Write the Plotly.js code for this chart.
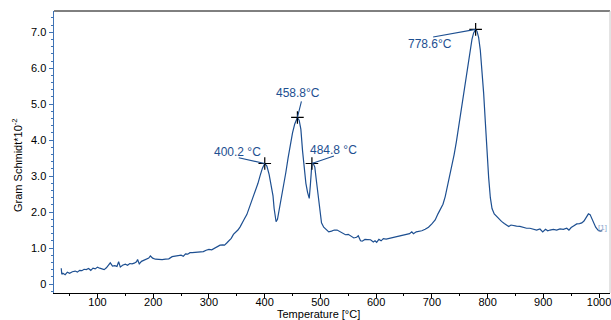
<!DOCTYPE html>
<html>
<head>
<meta charset="utf-8">
<script src="https://cdn.plot.ly/plotly-3.0.1.min.js"></script>
<style>html,body{margin:0;padding:0;background:#fff;}#chart{width:611px;height:320px;}</style>
</head>
<body>
<div id="chart"></div>
<script>
const temperature = [35,36,38,42,46,50,55,60,64,68,72,76,80,84,88,92,96,100,104,108,112,116,120,123,127,131,135,138,141,145,150,154,158,162,166,170,172,175,179,184,188,192,195,199,204,210,216,222,228,234,240,246,250,254,258,262,266,270,275,280,285,290,295,300,305,310,315,320,325,328,332,336,340,344,348,352,356,360,364,368,372,376,380,384,388,392,396,400.2,404,408,412,415,417,419,420.5,423,426,430,434,438,442,446,450,454,458.8,462,465,468,471,474,477,480,482,484.8,487,490,493,496,499,502,506,510,515,520,525,530,535,540,545,550,555,560,565,568,572,575,580,585,590,595,598,601,605,609,613,618,623,630,636,642,648,655,660,664,667,672,676,682,688,694,700,706,711,716,720,724,728,732,736,740,744,748,752,756,760,764,768,772,775,778.6,781,784,787,790,793,796,799,802,805,808,812,816,820,825,830,834,838,842,846,852,858,864,870,876,882,888,894,899,904,908,912,918,924,930,936,942,946,950,955,960,965,969,973,977,981,984,987,990,994,998,1002,1006];
const gramSchmidt = [0.44,0.27,0.30,0.26,0.33,0.30,0.34,0.36,0.33,0.38,0.37,0.41,0.40,0.43,0.38,0.44,0.42,0.47,0.44,0.41,0.40,0.45,0.52,0.59,0.50,0.51,0.49,0.62,0.47,0.52,0.55,0.52,0.57,0.56,0.58,0.62,0.68,0.56,0.63,0.66,0.68,0.72,0.78,0.72,0.69,0.68,0.68,0.69,0.70,0.76,0.78,0.79,0.80,0.77,0.84,0.83,0.87,0.87,0.88,0.88,0.88,0.90,0.94,0.96,0.95,1.00,1.03,1.08,1.09,1.08,1.14,1.20,1.27,1.38,1.44,1.50,1.59,1.72,1.82,1.93,2.10,2.25,2.42,2.60,2.80,3.02,3.22,3.35,3.28,3.05,2.75,2.45,2.10,1.80,1.73,1.80,2.05,2.40,2.75,3.10,3.50,3.90,4.20,4.45,4.63,4.55,4.30,3.70,3.15,2.80,2.55,2.38,2.75,3.35,3.36,3.25,2.85,2.45,2.00,1.70,1.58,1.53,1.45,1.47,1.50,1.50,1.45,1.42,1.37,1.38,1.32,1.28,1.30,1.34,1.20,1.19,1.24,1.24,1.23,1.17,1.20,1.16,1.24,1.20,1.26,1.25,1.27,1.28,1.32,1.33,1.35,1.38,1.40,1.45,1.40,1.45,1.46,1.48,1.52,1.58,1.67,1.78,1.95,2.10,2.22,2.43,2.70,2.98,3.28,3.60,3.95,4.35,4.78,5.20,5.62,6.03,6.45,6.80,6.98,7.08,7.03,6.85,6.50,5.95,5.30,4.50,3.65,2.95,2.40,2.10,1.95,1.88,1.80,1.74,1.68,1.65,1.60,1.64,1.62,1.61,1.60,1.57,1.55,1.55,1.52,1.50,1.53,1.45,1.52,1.48,1.50,1.52,1.50,1.53,1.52,1.55,1.50,1.57,1.62,1.67,1.68,1.70,1.75,1.85,1.95,1.93,1.82,1.70,1.58,1.50,1.47,1.48];

const peakTemps = [400.2, 458.8, 484.8, 778.6];
const peakValues = [3.35, 4.63, 3.35, 7.08];
const peakLabels = ['400.2 °C', '458.8°C', '484.8 °C', '778.6°C'];

const yTickVals = [0,1,2,3,4,5,6,7];
const yTickText = ['0','1.0','2.0','3.0','4.0','5.0','6.0','7.0'];
const xTickVals = [100,200,300,400,500,600,700,800,900,1000];
const xTickText = ['100','200','300','400','500','600','700','800','900','1000'];

const lineColor = '#1d4f91';
const font = 'Liberation Sans, Arial, sans-serif';

// label placement (pixel offsets relative to peak point)
const labelShift = [[-27.5, 12], [1, 24], [22, 14], [-46, -15]];
const leaderTail = [[-27.5, -6], [4.5, -18], [23.5, -8], [-44, 8]];

const annotations = [];
peakTemps.forEach((t, i) => {
  annotations.push({x: t, y: peakValues[i], xref: 'x', yref: 'y', text: peakLabels[i], showarrow: false,
    xshift: labelShift[i][0], yshift: labelShift[i][1], font: {family: font, size: 12, color: lineColor}});
  annotations.push({x: t, y: peakValues[i], xref: 'x', yref: 'y', text: ' ', showarrow: true, arrowhead: 0,
    arrowwidth: 1.1, arrowcolor: lineColor, ax: leaderTail[i][0], ay: leaderTail[i][1], standoff: 0, startstandoff: 0,
    font: {size: 1}});
});
annotations.push({x: temperature[temperature.length-1], y: gramSchmidt[gramSchmidt.length-1], xref: 'x', yref: 'y',
  text: '[1]', showarrow: false, xanchor: 'left', xshift: -6, yshift: 3, font: {family: font, size: 8, color: '#8aa6cc'}});
annotations.push({xref: 'paper', yref: 'paper', x: (318.5-53.5)/556.5, y: 0, yshift: -21, yanchor: 'middle',
  text: 'Temperature [°C]', showarrow: false, font: {family: font, size: 11, color: '#000'}});
annotations.push({xref: 'paper', yref: 'paper', x: 0, xshift: -46, y: (293-165)/282, textangle: -90, yanchor: 'middle',
  text: 'Gram Schmidt*10<sup>-2</sup>', showarrow: false, font: {family: font, size: 11, color: '#000'}});

const traces = [
  {x: temperature, y: gramSchmidt, type: 'scatter', mode: 'lines', line: {color: lineColor, width: 1.2}, hoverinfo: 'skip'},
  {x: peakTemps, y: peakValues, type: 'scatter', mode: 'markers',
   marker: {symbol: 'cross-thin-open', size: 9, color: '#000', line: {color: '#000', width: 1.2}}}
];

const layout = {
  width: 611, height: 320,
  margin: {l: 53.5, r: 1, t: 11, b: 27, pad: 0},
  paper_bgcolor: '#fff', plot_bgcolor: '#fff',
  showlegend: false,
  font: {family: font, size: 11, color: '#000'},
  xaxis: {range: [22, 1019.7], tickvals: xTickVals, ticktext: xTickText, ticks: 'outside', ticklen: 4, tickwidth: 1,
    tickcolor: '#000', showline: true, linecolor: '#000', linewidth: 1, showgrid: false, zeroline: false,
    ticklabelstandoff: -5, ticklabeloverflow: 'allow',
    tickfont: {family: font, size: 11}, minor: {dtick: 50, ticks: 'outside', ticklen: 2, tickcolor: '#000'}},
  yaxis: {range: [-0.25, 7.59], tickvals: yTickVals, ticktext: yTickText, ticks: 'outside', ticklen: 4, tickwidth: 1,
    tickcolor: '#3f73b5', showline: true, linecolor: '#3f73b5', linewidth: 1.5, showgrid: false, zeroline: false,
    tickfont: {family: font, size: 11}, minor: {dtick: 0.2, ticks: 'outside', ticklen: 2, tickcolor: '#3f73b5'}},
  shapes: [
    {type: 'line', xref: 'paper', yref: 'paper', x0: 0, x1: 1, y0: 1, y1: 1, line: {color: '#000', width: 1}},
    {type: 'line', xref: 'paper', yref: 'paper', x0: 1, x1: 1, y0: 0, y1: 1, line: {color: '#c8c8c8', width: 1}}
  ],
  annotations: annotations
};

Plotly.newPlot('chart', traces, layout, {displayModeBar: false, staticPlot: true});
</script>
</body>
</html>
